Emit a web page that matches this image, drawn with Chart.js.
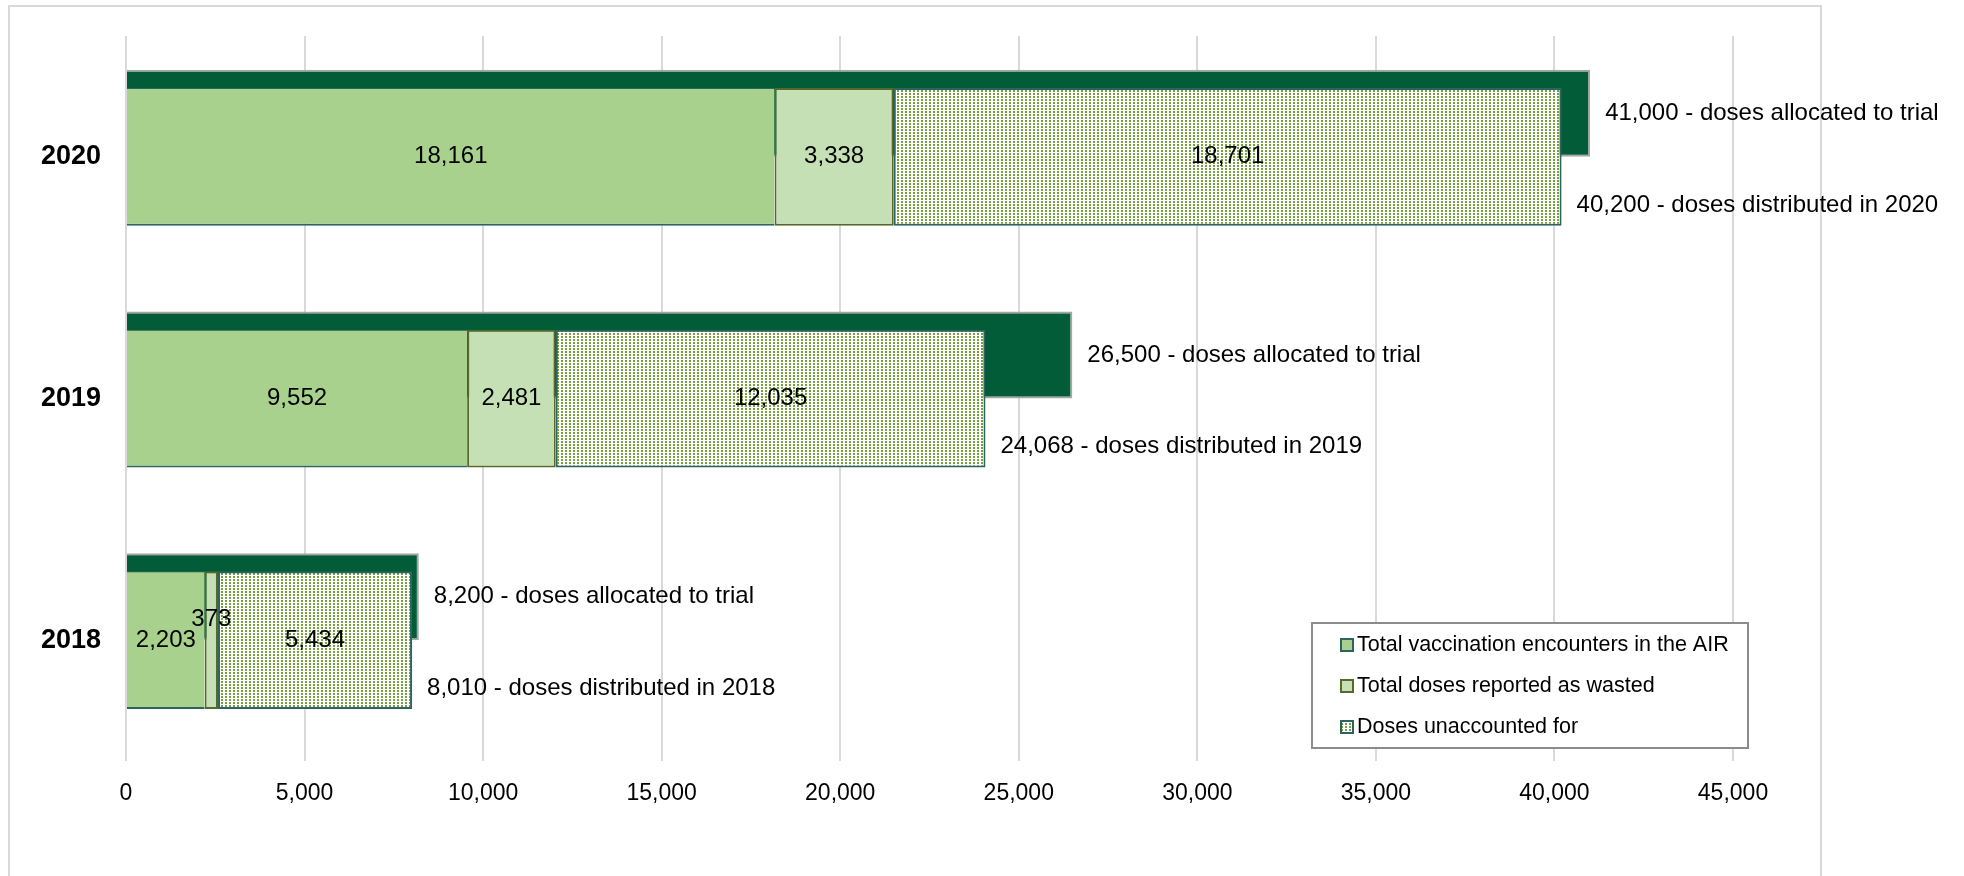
<!DOCTYPE html>
<html>
<head>
<meta charset="utf-8">
<script src="https://cdn.jsdelivr.net/npm/chart.js@4.4.1/dist/chart.umd.min.js"></script>
<style>
  body { margin: 0; background: #fff; }
  canvas { display: block; }
</style>
</head>
<body>
<canvas id="dosesChart" width="1964" height="876"></canvas>
<script>
// values
const years = ["2020", "2019", "2018"];
const allocated = [41000, 26500, 8200];
const distributed = [40200, 24068, 8010];
const encounters = [18161, 9552, 2203];
const wasted = [3338, 2481, 373];
const unaccounted = [18701, 12035, 5434];
const xTicks = [0, 5000, 10000, 15000, 20000, 25000, 30000, 35000, 40000, 45000];

const FONT = "'Liberation Sans', Arial, sans-serif";
Chart.defaults.font.family = FONT;
Chart.defaults.color = "#000";

const canvas = document.getElementById("dosesChart");
const ctx = canvas.getContext("2d");

// dotted fill for the "unaccounted" part
function makeDots() {
    const tile = document.createElement("canvas");
    tile.width = 4;
    tile.height = 3;
    const g = tile.getContext("2d");
    g.fillStyle = "#ffffff";
    g.fillRect(0, 0, 4, 3);
    g.fillStyle = "#74a03e";
    g.fillRect(1, 0, 2, 2);
    return ctx.createPattern(tile, "repeat");
}
const dots = makeDots();

const fmt = v => v.toLocaleString("en-US");

// light outer frame
const frame = {
    id: "frame",
    beforeDraw(chart) {
        const c = chart.ctx;
        c.save();
        c.strokeStyle = "#d9d9d9";
        c.lineWidth = 2;
        c.strokeRect(9, 6, 1812, 900);
        c.restore();
    }
};

// numbers in the segments + the notes at the bar ends
const barLabels = {
    id: "barLabels",
    afterDatasetsDraw(chart) {
        const c = chart.ctx;
        c.save();
        c.fillStyle = "#000";
        c.font = "24px " + FONT;
        c.textBaseline = "middle";
        c.textAlign = "center";

        [0, 1, 2].forEach(di => {
            const values = chart.data.datasets[di].data;
            chart.getDatasetMeta(di).data.forEach((bar, i) => {
                const text = fmt(values[i]);
                const w = Math.abs(bar.x - bar.base);
                const y = c.measureText(text).width > w ? bar.y - 21 : bar.y;
                c.fillText(text, (bar.x + bar.base) / 2, y);
            });
        });

        c.textAlign = "left";
        chart.getDatasetMeta(3).data.forEach((bar, i) => {
            c.fillText(fmt(allocated[i]) + " - doses allocated to trial", bar.x + 15, bar.y);
        });
        chart.getDatasetMeta(2).data.forEach((bar, i) => {
            c.fillText(fmt(distributed[i]) + " - doses distributed in " + years[i], bar.x + 15, bar.y + bar.height * 0.35);
        });
        c.restore();
    }
};

// boxed legend sitting inside the plot, bottom right
const boxLegend = {
    id: "boxLegend",
    afterDraw(chart) {
        const c = chart.ctx;
        const area = chart.chartArea;
        const left = area.right - 421;
        const top = area.bottom - 138;
        c.save();
        c.fillStyle = "#fff";
        c.fillRect(left, top, 436, 125);
        c.strokeStyle = "#8c8c8c";
        c.lineWidth = 2;
        c.strokeRect(left, top, 436, 125);

        c.font = "21.5px " + FONT;
        c.textBaseline = "middle";
        c.textAlign = "left";
        [0, 1, 2].forEach((di, k) => {
            const ds = chart.data.datasets[di];
            const y = top + 22 + k * 41;
            c.fillStyle = ds.backgroundColor;
            c.fillRect(left + 29, y - 6, 12, 12);
            c.strokeStyle = ds.borderColor;
            c.lineWidth = 2;
            c.strokeRect(left + 29, y - 6, 12, 12);
            c.fillStyle = "#000";
            c.fillText(ds.label, left + 45, y);
        });
        c.restore();
    }
};

new Chart(ctx, {
    type: "bar",
    data: {
        labels: years,
        datasets: [
            {
                label: "Total vaccination encounters in the AIR",
                data: encounters,
                stack: "dist",
                grouped: false,
                order: 0,
                backgroundColor: "#a9d18e",
                borderColor: "#2e6460",
                borderWidth: { top: 1, bottom: 2, left: 0, right: 0 },
                borderSkipped: false,
                categoryPercentage: 1,
                barPercentage: 0.57
            },
            {
                label: "Total doses reported as wasted",
                data: wasted,
                stack: "dist",
                grouped: false,
                order: 0,
                backgroundColor: "#c5e0b4",
                borderColor: "#56692b",
                borderWidth: 2,
                borderSkipped: false,
                categoryPercentage: 1,
                barPercentage: 0.57
            },
            {
                label: "Doses unaccounted for",
                data: unaccounted,
                stack: "dist",
                grouped: false,
                order: 0,
                backgroundColor: dots,
                borderColor: "#2e6460",
                borderWidth: 2,
                borderSkipped: false,
                categoryPercentage: 1,
                barPercentage: 0.57
            },
            {
                label: "Doses allocated to trial",
                data: allocated,
                stack: "alloc",
                order: 1,
                backgroundColor: "#035c38",
                borderColor: "#a6a6a6",
                borderWidth: 2,
                borderSkipped: "start",
                categoryPercentage: 0.72,
                barPercentage: 1
            },
            {
                // empty slot so the allocated bar sits in the upper half of the band
                label: "",
                data: years.map(() => null),
                stack: "pad",
                order: 2,
                backgroundColor: "rgba(0,0,0,0)",
                borderWidth: 0,
                categoryPercentage: 0.72,
                barPercentage: 1
            }
        ]
    },
    options: {
        indexAxis: "y",
        responsive: false,
        animation: false,
        events: [],
        locale: "en-US",
        layout: { padding: { left: 16, top: 36, right: 231, bottom: 65 } },
        plugins: {
            legend: { display: false },
            tooltip: { enabled: false }
        },
        scales: {
            x: {
                stacked: true,
                min: 0,
                max: 45000,
                grid: { color: "#d9d9d9", lineWidth: 2, drawTicks: false },
                border: { display: false },
                ticks: { color: "#000", font: { size: 23 }, padding: 19 },
                afterBuildTicks(axis) {
                    axis.ticks = xTicks.map(v => ({ value: v }));
                },
                afterFit(axis) { axis.height = 50; }
            },
            y: {
                stacked: true,
                // tick length only used as a gap before the year labels
                grid: { display: false, drawTicks: true, tickLength: 7 },
                border: { display: false },
                ticks: { color: "#000", font: { size: 27, weight: "bold" }, padding: 18 },
                afterFit(axis) { axis.width = 110; }
            }
        }
    },
    plugins: [frame, barLabels, boxLegend]
});
</script>
</body>
</html>
